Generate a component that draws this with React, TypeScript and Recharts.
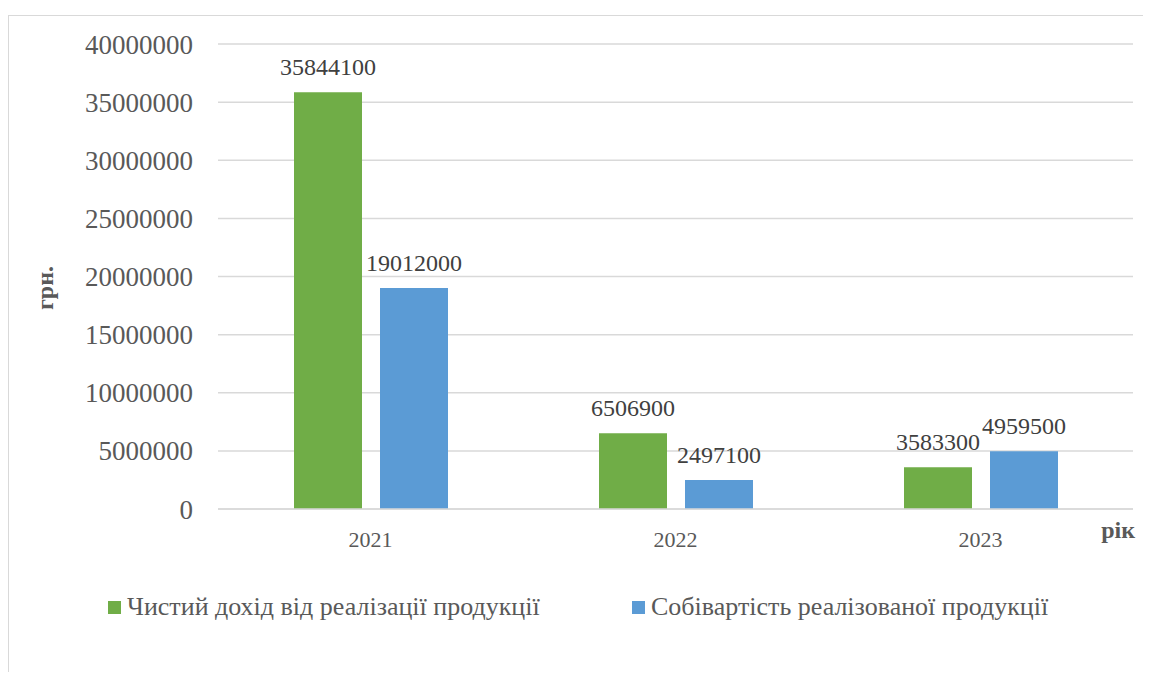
import { BarChart, Bar, XAxis, YAxis, CartesianGrid, Legend, LabelList, Label } from "recharts";

const years = ["2021", "2022", "2023"];
const netIncome = [35844100, 6506900, 3583300];
const costOfSales = [19012000, 2497100, 4959500];
const yTicks = [0, 5000000, 10000000, 15000000, 20000000, 25000000, 30000000, 35000000, 40000000];

const seriesNames = ["Чистий дохід від реалізації продукції", "Собівартість реалізованої продукції"];
const colors = ["#70AD47", "#5B9BD5"];

const data = years.map((y, i) => ({ year: y, income: netIncome[i], cost: costOfSales[i] }));

const FONT = '"Liberation Serif", "Times New Roman", serif';

const renderLegend = () => (
    <div style={{ display: "flex", alignItems: "center", height: 40, paddingLeft: 99, fontFamily: FONT, fontSize: 26, color: "#595959" }}>
        {seriesNames.map((name, i) => (
            <div key={name} style={{ display: "flex", alignItems: "center", width: i === 0 ? 524 : "auto" }}>
                <span style={{ display: "inline-block", width: 13, height: 13, background: colors[i], marginRight: 6 }} />
                <span>{name}</span>
            </div>
        ))}
    </div>
);

const YTitle = () => (
    <text x={36} y={272} transform="rotate(-90 36 272)" textAnchor="middle" dominantBaseline="central"
        fontFamily={FONT} fontSize={24} fontWeight="bold" fill="#595959">
        грн.
    </text>
);

const XTitle = (props: any) => {
    const vb = props.viewBox;
    return (
        <text x={vb.x + vb.width + 2} y={vb.y + 29} textAnchor="end"
            fontFamily={FONT} fontSize={24} fontWeight="bold" fill="#595959">
            рік
        </text>
    );
};

export default function App() {
    return (
        <div style={{ marginTop: 7, width: 1143, height: 657, boxSizing: "border-box", borderLeft: "1px solid #D9D9D9", borderTop: "1px solid #D9D9D9" }}>
            <BarChart width={1142} height={656} data={data} margin={{ top: 28, right: 18, bottom: 45, left: 0 }} barGap={18}>
                <CartesianGrid vertical={false} stroke="#D9D9D9" strokeWidth={1.5} />
                <XAxis dataKey="year" height={78} tickLine={false} tickSize={0} tickMargin={22}
                    axisLine={{ stroke: "#D9D9D9", strokeWidth: 1.5 }}
                    tick={{ fontFamily: FONT, fontSize: 22, fill: "#595959" }}>
                    <Label content={XTitle} />
                </XAxis>
                <YAxis width={209} domain={[0, 40000000]} ticks={yTicks} interval={0} axisLine={false} tickLine={false}
                    tickSize={0} tickMargin={25} tick={{ fontFamily: FONT, fontSize: 27, fill: "#595959" }}>
                    <Label content={YTitle} />
                </YAxis>
                <Legend verticalAlign="bottom" height={40} content={renderLegend} wrapperStyle={{ left: 0, width: 1142 }} />
                <Bar dataKey="income" name={seriesNames[0]} fill={colors[0]} barSize={68} isAnimationActive={false}>
                    <LabelList dataKey="income" position="top" offset={17} style={{ fontFamily: FONT, fontSize: 24, fill: "#404040" }} />
                </Bar>
                <Bar dataKey="cost" name={seriesNames[1]} fill={colors[1]} barSize={68} isAnimationActive={false}>
                    <LabelList dataKey="cost" position="top" offset={17} style={{ fontFamily: FONT, fontSize: 24, fill: "#404040" }} />
                </Bar>
            </BarChart>
        </div>
    );
}
